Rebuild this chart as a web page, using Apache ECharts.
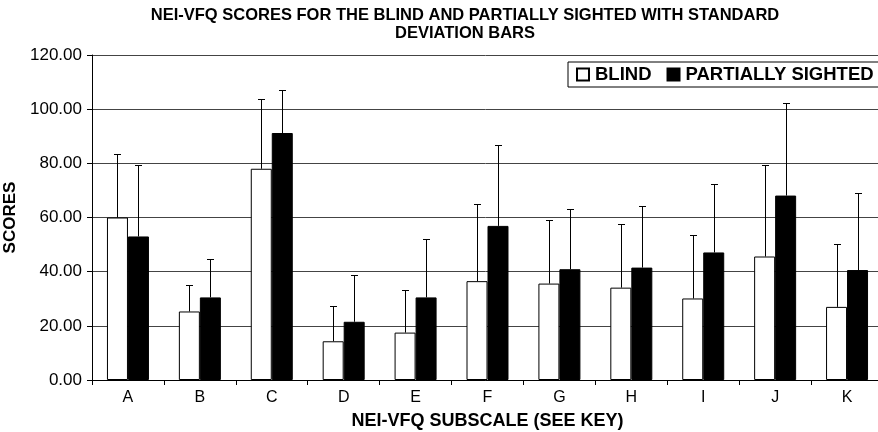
<!DOCTYPE html>
<html>
<head>
<meta charset="utf-8">
<script src="https://cdn.jsdelivr.net/npm/echarts@6/dist/echarts.min.js"></script>
<style>
  html, body { margin: 0; padding: 0; background: #fff; }
  #chart { width: 878px; height: 432px; }
</style>
</head>
<body>
<div id="chart"></div>
<script>
// subscale labels (see key)
const subscales = ['A', 'B', 'C', 'D', 'E', 'F', 'G', 'H', 'I', 'J', 'K'];

// mean scores
const blindMeans = [60.0, 25.3, 78.0, 14.3, 17.5, 36.5, 35.6, 34.1, 30.1, 45.6, 27.0];
const partialMeans = [53.0, 30.5, 91.2, 21.5, 30.5, 56.9, 40.9, 41.5, 47.1, 68.1, 40.6];

// standard deviations (drawn upwards only)
const blindSD = [23.6, 9.6, 25.9, 12.9, 15.6, 28.4, 23.3, 23.4, 23.3, 33.9, 23.1];
const partialSD = [26.3, 14.0, 16.0, 17.1, 21.7, 30.0, 22.4, 22.7, 25.4, 34.0, 28.6];

const yTicks = [0, 20, 40, 60, 80, 100, 120];

const FONT = "'Liberation Sans', Arial, Helvetica, sans-serif";
const CAT_GAP = 0.416;

const chart = echarts.init(document.getElementById('chart'));

// error bar renderer, side = -1 for left bar, +1 for right bar
function errorBar(side, sds) {
    return function (params, api) {
        const idx = api.value(0);
        const mean = api.value(1);
        const sd = sds[idx];
        const band = api.size([1, 0])[0];
        const barW = band * (1 - CAT_GAP) / 2;
        const base = api.coord([idx, mean]);
        const top = api.coord([idx, mean + sd]);
        const x = Math.round(base[0] + side * barW / 2) + 0.5;
        const yTop = Math.round(top[1]) + 0.5;
        const style = { stroke: '#000', lineWidth: 1 };
        return {
            type: 'group',
            children: [
                { type: 'line', shape: { x1: x, y1: base[1], x2: x, y2: yTop }, style: style },
                { type: 'line', shape: { x1: x - 3.5, y1: yTop, x2: x + 3.5, y2: yTop }, style: style }
            ]
        };
    };
}

const option = {
    animation: false,
    backgroundColor: '#fff',
    textStyle: { fontFamily: FONT, color: '#000' },
    graphic: [{
        type: 'text',
        x: 465,
        y: 6,
        style: {
            text: 'NEI-VFQ SCORES FOR THE BLIND AND PARTIALLY SIGHTED WITH STANDARD\nDEVIATION BARS',
            fontFamily: FONT, fontSize: 16.5, fontWeight: 'bold', fill: '#000',
            lineHeight: 18, align: 'center', verticalAlign: 'top'
        }
    }],
    legend: {
        data: ['BLIND', 'PARTIALLY SIGHTED'],
        orient: 'horizontal',
        left: 568,
        top: 62,
        width: 400,
        padding: [3, 16, 3, 8],
        icon: 'rect',
        itemWidth: 12,
        itemHeight: 12,
        itemGap: 15,
        borderColor: '#000',
        borderWidth: 1,
        borderRadius: 0,
        backgroundColor: '#fff',
        textStyle: { fontFamily: FONT, fontSize: 18.5, fontWeight: 'bold', color: '#000', padding: [0, 0, 0, 1] }
    },
    grid: { left: 92, right: -5, top: 55, bottom: 52, containLabel: false, outerBoundsMode: 'none' },
    xAxis: {
        type: 'category',
        data: subscales,
        name: 'NEI-VFQ SUBSCALE (SEE KEY)',
        nameLocation: 'middle',
        nameGap: 32,
        nameTextStyle: { fontFamily: FONT, fontSize: 18, fontWeight: 'bold', color: '#000' },
        axisLine: { lineStyle: { color: '#000', width: 1 } },
        axisTick: { show: true, length: 5, lineStyle: { color: '#000' } },
        axisLabel: { fontFamily: FONT, fontSize: 16, color: '#000', margin: 10 },
        splitLine: { show: false }
    },
    yAxis: {
        type: 'value',
        min: yTicks[0],
        max: yTicks[yTicks.length - 1],
        interval: yTicks[1] - yTicks[0],
        name: 'SCORES',
        nameLocation: 'middle',
        nameGap: 62,
        nameTextStyle: { fontFamily: FONT, fontSize: 17, fontWeight: 'bold', color: '#000' },
        axisLine: { show: true, lineStyle: { color: '#000', width: 1 } },
        axisTick: { show: true, length: 5, lineStyle: { color: '#000' } },
        axisLabel: {
            fontFamily: FONT, fontSize: 17, color: '#000', margin: 10,
            formatter: v => v.toFixed(2)
        },
        splitLine: { lineStyle: { color: '#444', width: 1 } }
    },
    series: [
        {
            name: 'BLIND',
            type: 'bar',
            data: blindMeans,
            barGap: '0%',
            barCategoryGap: (CAT_GAP * 100) + '%',
            itemStyle: { color: '#fff', borderColor: '#000', borderWidth: 1 }
        },
        {
            name: 'PARTIALLY SIGHTED',
            type: 'bar',
            data: partialMeans,
            barGap: '0%',
            barCategoryGap: (CAT_GAP * 100) + '%',
            itemStyle: { color: '#000', borderColor: '#000', borderWidth: 1 }
        },
        {
            name: 'blind-sd',
            type: 'custom',
            data: blindMeans.map((v, i) => [i, v]),
            renderItem: errorBar(-1, blindSD),
            z: 5
        },
        {
            name: 'partial-sd',
            type: 'custom',
            data: partialMeans.map((v, i) => [i, v]),
            renderItem: errorBar(1, partialSD),
            z: 5
        }
    ]
};

chart.setOption(option);
</script>
</body>
</html>
